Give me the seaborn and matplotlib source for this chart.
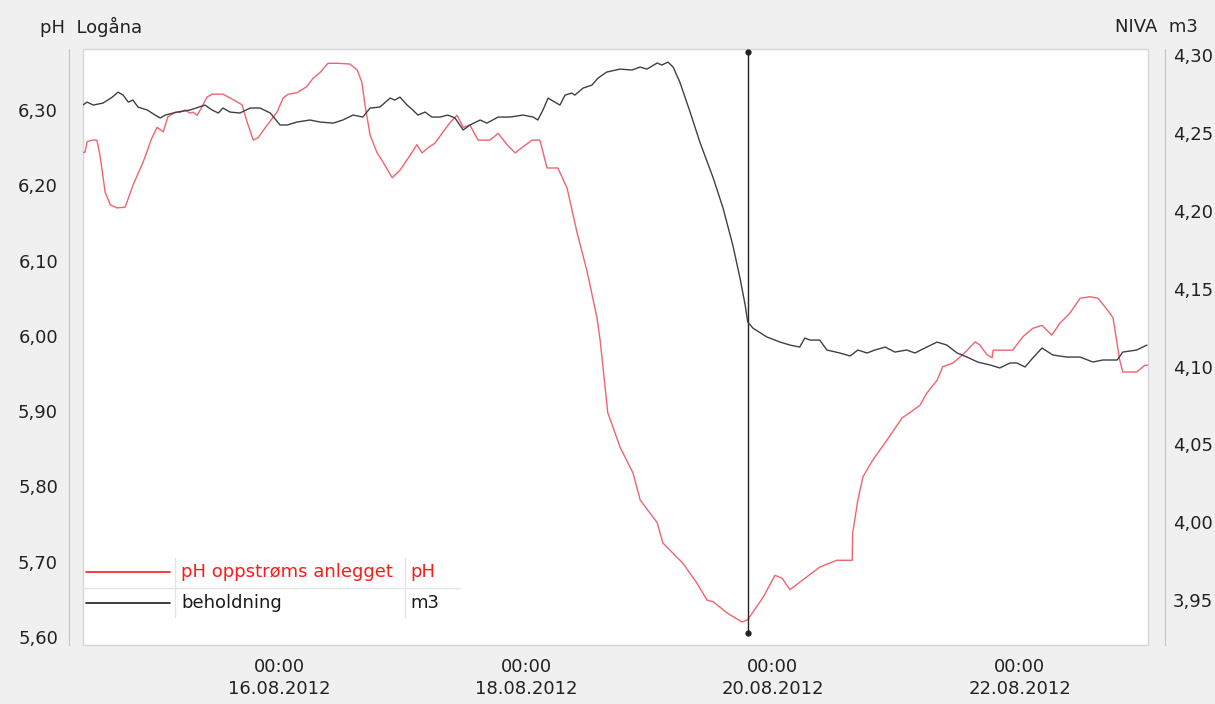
import matplotlib
matplotlib.use("Agg")
import matplotlib.pyplot as plt
import pandas as pd
import seaborn as sns
from matplotlib.ticker import FuncFormatter

START = pd.Timestamp("2012-08-14 00:00")

# pH oppstrøms anlegget (hours after START, pH)
PH_HOURS = [
    9.3, 10.3, 10.7, 11.7, 12.6, 13.2, 14.2, 15.2, 16.5, 18.1, 19.6, 21.6, 23.3, 24.3,
    25.5, 26.4, 27.8, 28.8, 29.7, 30.7, 31.3, 32.1, 33.0, 34.0, 35.0, 37.1, 38.5, 39.8,
    40.8, 41.8, 43.0, 43.9, 45.7, 47.6, 48.8, 49.8, 51.5, 53.4, 54.6, 56.0, 57.5, 59.5,
    61.8, 63.2, 64.1, 64.7, 65.7, 67.0, 68.2, 70.0, 71.5, 73.5, 74.8, 75.8, 77.0, 78.3,
    79.9, 81.2, 82.6, 83.8, 85.1, 86.7, 89.0, 90.6, 92.3, 93.9, 95.4, 97.2, 98.7, 100.1,
    102.2, 104.0, 105.9, 107.9, 109.8, 110.4, 111.9, 114.3, 116.8, 118.2, 121.5, 122.6,
    126.5, 129.2, 131.2, 132.4, 135.1, 138.0, 139.1, 142.1, 144.4, 145.8, 147.3, 149.8,
    153.1, 156.4, 159.4, 159.5, 160.5, 161.5, 163.4, 166.2, 169.1, 170.6, 172.6, 173.9,
    175.9, 177.0, 179.0, 180.9, 182.3, 183.3, 184.2, 185.6, 186.6, 186.8, 190.6, 192.6,
    194.5, 196.3, 198.2, 199.8, 201.7, 203.7, 205.6, 207.2, 209.5, 210.1, 211.4, 212.0,
    214.7, 216.3, 216.9,
]
PH_VALUES = [
    6.243, 6.244, 6.258, 6.260, 6.260, 6.240, 6.191, 6.174, 6.170, 6.171, 6.200, 6.231, 6.263, 6.277,
    6.271, 6.291, 6.297, 6.297, 6.300, 6.296, 6.297, 6.293, 6.304, 6.317, 6.321, 6.321, 6.316, 6.311,
    6.307, 6.284, 6.260, 6.263, 6.280, 6.297, 6.316, 6.321, 6.323, 6.331, 6.342, 6.350, 6.362, 6.362,
    6.361, 6.353, 6.337, 6.307, 6.267, 6.244, 6.231, 6.210, 6.220, 6.240, 6.254, 6.243, 6.250, 6.256,
    6.271, 6.283, 6.293, 6.277, 6.280, 6.260, 6.260, 6.269, 6.254, 6.243, 6.251, 6.260, 6.260, 6.223,
    6.223, 6.196, 6.138, 6.085, 6.024, 5.995, 5.898, 5.852, 5.818, 5.782, 5.752, 5.725,
    5.698, 5.672, 5.649, 5.647, 5.632, 5.620, 5.623, 5.653, 5.682, 5.678, 5.663, 5.676,
    5.693, 5.702, 5.702, 5.738, 5.782, 5.813, 5.835, 5.862, 5.891, 5.898, 5.908, 5.924,
    5.941, 5.959, 5.964, 5.975, 5.985, 5.992, 5.988, 5.975, 5.971, 5.981, 5.981, 5.999,
    6.010, 6.014, 6.001, 6.017, 6.030, 6.050, 6.052, 6.050, 6.030, 6.024, 5.968, 5.952,
    5.952, 5.961, 5.961,
]

# beholdning, NIVA m3 (hours after START, m3)
LEVEL_HOURS = [
    9.3, 10.7, 11.9, 13.8, 15.6, 16.7, 17.7, 18.7, 19.6, 20.6, 22.4, 23.9, 24.9, 25.9,
    28.2, 30.7, 33.6, 35.0, 36.2, 37.1, 38.5, 40.4, 42.4, 44.3, 46.3, 48.2, 49.6, 51.5,
    54.0, 56.0, 58.5, 60.4, 62.4, 64.3, 65.7, 67.6, 69.6, 70.5, 71.5, 72.9, 74.0, 75.0,
    76.4, 77.7, 79.3, 80.8, 82.2, 83.8, 85.1, 87.1, 88.4, 90.6, 92.9, 95.4, 97.4, 98.3,
    99.3, 100.3, 101.6, 102.6, 103.6, 104.9, 105.5, 107.1, 108.8, 110.0, 111.7, 114.3,
    116.6, 118.2, 119.5, 121.5, 122.4, 123.6, 124.6, 125.9, 127.9, 129.8, 132.4, 134.3,
    136.2, 137.6, 138.6, 139.1, 140.1, 142.8, 145.4, 147.3, 149.2, 150.2, 151.2, 153.1,
    154.5, 157.0, 159.0, 160.5, 162.3, 163.8, 165.8, 167.7, 170.0, 171.6, 173.9, 175.9,
    177.8, 179.8, 181.7, 183.8, 186.2, 188.1, 190.1, 191.4, 193.0, 194.5, 196.3, 198.4,
    201.1, 203.7, 206.2, 208.1, 210.9, 212.0, 214.7, 216.7,
]
LEVEL_VALUES = [
    4.2666, 4.2698, 4.2679, 4.2692, 4.2730, 4.2762, 4.2743, 4.2698, 4.2711, 4.2666, 4.2647, 4.2615, 4.2596, 4.2615,
    4.2634, 4.2647, 4.2679, 4.2647, 4.2628, 4.2660, 4.2634, 4.2628, 4.2660, 4.2660, 4.2628, 4.2551, 4.2551, 4.2570,
    4.2583, 4.2570, 4.2563, 4.2583, 4.2615, 4.2602, 4.2660, 4.2666, 4.2724, 4.2711, 4.2730, 4.2679, 4.2647, 4.2615,
    4.2634, 4.2602, 4.2602, 4.2615, 4.2596, 4.2519, 4.2551, 4.2583, 4.2563, 4.2602, 4.2602, 4.2615, 4.2602, 4.2583,
    4.2647, 4.2724, 4.2698, 4.2679, 4.2743, 4.2756, 4.2743, 4.2788, 4.2807, 4.2852, 4.2891, 4.2910,
    4.2904, 4.2923, 4.2910, 4.2949, 4.2936, 4.2955, 4.2923, 4.2827, 4.2634, 4.2441, 4.2210, 4.2018,
    4.1780, 4.1568, 4.1395, 4.1286, 4.1247, 4.1190, 4.1157, 4.1138, 4.1125, 4.1183, 4.1170, 4.1170,
    4.1106, 4.1087, 4.1068, 4.1106, 4.1087, 4.1106, 4.1125, 4.1093, 4.1106, 4.1087, 4.1125, 4.1157,
    4.1138, 4.1087, 4.1061, 4.1029, 4.1010, 4.0991, 4.1023, 4.1023, 4.0997, 4.1055, 4.1119, 4.1074,
    4.1061, 4.1061, 4.1029, 4.1042, 4.1042, 4.1093, 4.1106, 4.1138,
]

CURSOR_HOUR = 139.1
X_START_HOUR = 9.9
X_END_HOUR = 216.9
PH_LIM = (5.5895, 6.381)
LEVEL_LIM = (3.9212, 4.3039)
PH_TICKS = [5.6, 5.7, 5.8, 5.9, 6.0, 6.1, 6.2, 6.3]
LEVEL_TICKS = [3.95, 4.00, 4.05, 4.10, 4.15, 4.20, 4.25, 4.30]
TICK_DATES = ["2012-08-16", "2012-08-18", "2012-08-20", "2012-08-22"]
TICK_LABELS = [
    "00:00\n16.08.2012",
    "00:00\n18.08.2012",
    "00:00\n20.08.2012",
    "00:00\n22.08.2012",
]
LEGEND_ROWS = [
    ("pH oppstrøms anlegget", "pH", "#ff1a1a"),
    ("beholdning", "m3", "#1a1a1a"),
]

BG = "#f0f0f0"
RED = "#ee6470"
BLACK = "#404040"
AXIS_GRAY = "#c4c4c4"
FS = 13


def to_time(hours):
    return START + pd.to_timedelta(hours, unit="h")


def comma_fmt(value, _pos):
    return f"{value:.2f}".replace(".", ",")


def main():
    sns.set_style("white")
    plt.rcParams["font.family"] = ["DejaVu Sans"]
    plt.rcParams["font.size"] = FS

    ph_df = pd.DataFrame({"time": to_time(PH_HOURS), "pH": PH_VALUES})
    level_df = pd.DataFrame({"time": to_time(LEVEL_HOURS), "m3": LEVEL_VALUES})

    W, H = 1215, 704
    fig = plt.figure(figsize=(W / 100, H / 100), dpi=100, facecolor=BG)
    ax = fig.add_axes([83 / W, (H - 645) / H, 1065 / W, 596 / H])
    ax.set_facecolor("white")
    ax2 = ax.twinx()
    ax2.patch.set_visible(False)

    sns.lineplot(data=ph_df, x="time", y="pH", ax=ax, color=RED, linewidth=1.0,
                 estimator=None, sort=False)
    sns.lineplot(data=level_df, x="time", y="m3", ax=ax2, color=BLACK, linewidth=1.0,
                 estimator=None, sort=False)

    ax.set_xlim(to_time(X_START_HOUR), to_time(X_END_HOUR))
    ax.set_ylim(*PH_LIM)
    ax2.set_ylim(*LEVEL_LIM)

    ax.set_xticks(pd.to_datetime(TICK_DATES))
    ax.set_xticklabels(TICK_LABELS, linespacing=1.35)
    ax.set_yticks(PH_TICKS)
    ax2.set_yticks(LEVEL_TICKS)
    ax.yaxis.set_major_formatter(FuncFormatter(comma_fmt))
    ax2.yaxis.set_major_formatter(FuncFormatter(comma_fmt))

    ax.tick_params(axis="x", length=0, pad=9, labelsize=FS, colors="#222222")
    ax.tick_params(axis="y", length=0, pad=8, labelsize=FS, colors="#222222")
    ax2.tick_params(axis="y", length=0, pad=6, labelsize=FS, colors="#222222")
    ax.set_xlabel("")
    ax.set_ylabel("")
    ax2.set_ylabel("")

    for side in ["top", "bottom", "right"]:
        ax.spines[side].set_visible(False)
    ax.spines["left"].set_position(("outward", 10))
    ax.spines["left"].set_color(AXIS_GRAY)
    for side in ["top", "bottom", "left"]:
        ax2.spines[side].set_visible(False)
    ax2.spines["right"].set_visible(True)
    ax2.spines["right"].set_position(("outward", 12))
    ax2.spines["right"].set_color(AXIS_GRAY)

    # faint frame around the white plot area
    ax.patch.set_edgecolor("#d6d6d6")
    ax.patch.set_linewidth(1.0)

    # cursor line with end dots
    ax.axvline(to_time(CURSOR_HOUR), ymin=0.02, ymax=0.995, color="#222222",
               linewidth=1.0, marker="o", markersize=3.5, zorder=5)

    # legend table in lower left
    tr = ax.transAxes
    row_y = [0.1225, 0.0705]
    for (label, unit, color), y in zip(LEGEND_ROWS, row_y):
        ax.plot([0.0028, 0.0817], [y, y], color=color, linewidth=1.2, transform=tr,
                clip_on=False, zorder=6)
        ax.text(0.092, y, label, color=color, fontsize=FS, va="center", ha="left",
                transform=tr, zorder=6)
        ax.text(0.307, y, unit, color=color, fontsize=FS, va="center", ha="left",
                transform=tr, zorder=6)
    grid_kw = dict(color="#e4e4e4", linewidth=1.0, transform=tr, zorder=4)
    ax.plot([0.0, 0.354], [0.0956, 0.0956], **grid_kw)
    ax.plot([0.0864, 0.0864], [0.047, 0.146], **grid_kw)
    ax.plot([0.3023, 0.3023], [0.047, 0.146], **grid_kw)

    fig.text(40 / W, 1 - 27 / H, "pH  Logåna", fontsize=FS, ha="left", va="center",
             color="#222222")
    fig.text(1198 / W, 1 - 27 / H, "NIVA  m3", fontsize=FS, ha="right", va="center",
             color="#222222")

    fig.savefig("out.png", dpi=100, facecolor=BG)
    plt.close(fig)


if __name__ == "__main__":
    main()
